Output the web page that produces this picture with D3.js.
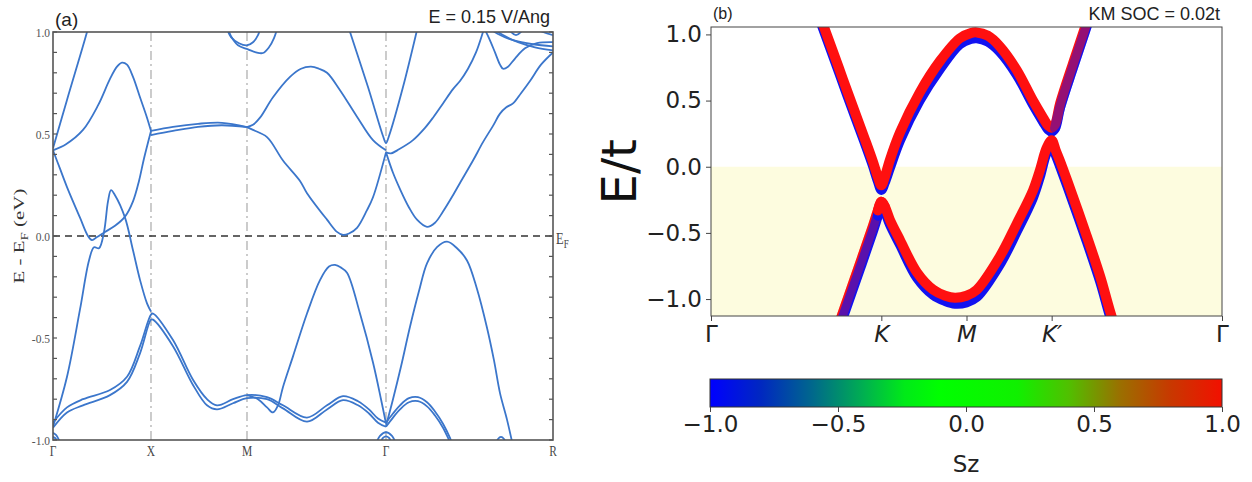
<!DOCTYPE html>
<html>
<head>
<meta charset="utf-8">
<script src="https://cdn.jsdelivr.net/npm/d3@7"></script>
<style>
  html, body { margin: 0; padding: 0; background: #fff; }
  svg { display: block; }
</style>
</head>
<body>
<svg id="fig" width="1252" height="482"></svg>
<script>
// ---------------- Panel (a): band structure along Γ–X–M–Γ–R ----------------
const pathLabelsA = ["Γ", "X", "M", "Γ", "R"];
const pathTicksA  = [0, 0.98, 1.94, 3.33, 5.0];
const energyMajorA = [-1.0, -0.5, 0.0, 0.5, 1.0];
const energyMinorA = [-1.0,-0.9,-0.8,-0.7,-0.6,-0.5,-0.4,-0.3,-0.2,-0.1,0.0,0.1,0.2,0.3,0.4,0.5,0.6,0.7,0.8,0.9,1.0];

// each band: [k-path coordinate, E - E_F (eV)]
const bandSteepGamma = [[0,0.43],[0.14,0.667],[0.34,1.0],[0.36,1.04]];
const bandHumpGX = [[0,0.42],[0.13,0.45],[0.3,0.52],[0.45,0.64],[0.57,0.77],[0.64,0.83],[0.69,0.85],[0.74,0.84],[0.80,0.78],[0.87,0.68],[0.94,0.58],[0.98,0.515]];
const bandDipGX = [[0,0.42],[0.07,0.33],[0.14,0.24],[0.27,0.09],[0.35,0.0],[0.39,-0.02],[0.44,-0.005],[0.52,0.02],[0.62,0.05],[0.72,0.095],[0.80,0.17],[0.86,0.27],[0.91,0.38],[0.98,0.515]];
const bandCrossGX = [[0,-0.935],[0.14,-0.69],[0.27,-0.36],[0.36,-0.12],[0.41,-0.055],[0.46,-0.06],[0.51,0.02],[0.55,0.17],[0.58,0.225],[0.62,0.20],[0.72,0.09],[0.80,-0.07],[0.87,-0.215],[0.94,-0.33],[0.98,-0.37]];
const bandLowUpper = [[0,-0.915],[0.14,-0.84],[0.30,-0.80],[0.57,-0.755],[0.74,-0.69],[0.87,-0.54],[0.98,-0.385],[1.0,-0.38],[1.20,-0.51],[1.40,-0.705],[1.54,-0.80],[1.64,-0.83],[1.80,-0.80],[1.94,-0.78],[2.14,-0.79],[2.30,-0.83],[2.54,-0.89],[2.74,-0.83],[2.90,-0.785],[3.05,-0.81],[3.16,-0.85],[3.25,-0.895],[3.33,-0.915]];
const bandLowLower = [[0,-0.94],[0.14,-0.865],[0.30,-0.83],[0.57,-0.78],[0.74,-0.715],[0.87,-0.575],[0.98,-0.41],[1.0,-0.41],[1.20,-0.54],[1.40,-0.73],[1.54,-0.83],[1.64,-0.85],[1.80,-0.82],[1.94,-0.795],[2.14,-0.80],[2.30,-0.845],[2.54,-0.91],[2.74,-0.85],[2.90,-0.805],[3.05,-0.83],[3.16,-0.87],[3.25,-0.915],[3.33,-0.935]];
const bandLowUpperGR = [[3.33,-0.915],[3.40,-0.87],[3.47,-0.83],[3.56,-0.795],[3.65,-0.79],[3.74,-0.815],[3.82,-0.86],[3.90,-0.92],[3.97,-0.99],[4.0,-1.03]];
const bandLowLowerGR = [[3.33,-0.935],[3.40,-0.89],[3.47,-0.85],[3.56,-0.815],[3.65,-0.81],[3.74,-0.835],[3.82,-0.88],[3.90,-0.94],[3.96,-1.0],[3.99,-1.03]];
const bandPeakMG = [[1.94,-0.78],[2.05,-0.80],[2.14,-0.84],[2.20,-0.865],[2.25,-0.83],[2.30,-0.74],[2.40,-0.59],[2.54,-0.38],[2.67,-0.216],[2.76,-0.15],[2.82,-0.142],[2.88,-0.155],[2.94,-0.18],[3.07,-0.38],[3.20,-0.62],[3.28,-0.80],[3.33,-0.92]];
const bandPeakGR = [[3.33,-0.93],[3.40,-0.80],[3.48,-0.64],[3.57,-0.445],[3.66,-0.27],[3.74,-0.134],[3.84,-0.055],[3.94,-0.028],[4.04,-0.06],[4.14,-0.12],[4.24,-0.26],[4.34,-0.45],[4.41,-0.61],[4.47,-0.77],[4.54,-0.90],[4.60,-1.03]];
const bandVGamma = [[2.95,1.03],[3.15,0.73],[3.30,0.49],[3.33,0.455],[3.36,0.49],[3.50,0.73],[3.65,1.03]];
const bandArchMG = [[1.94,0.534],[2.0,0.545],[2.07,0.58],[2.20,0.68],[2.37,0.78],[2.48,0.82],[2.58,0.83],[2.66,0.82],[2.74,0.80],[2.87,0.715],[3.04,0.585],[3.20,0.47],[3.33,0.42]];
const bandValleyMG = [[1.94,0.534],[2.0,0.52],[2.14,0.485],[2.30,0.37],[2.47,0.27],[2.54,0.21],[2.74,0.08],[2.84,0.02],[2.90,0.005],[2.96,0.012],[3.04,0.04],[3.14,0.127],[3.20,0.19],[3.33,0.41]];
const bandValleyGR = [[3.33,0.41],[3.40,0.31],[3.47,0.23],[3.56,0.14],[3.64,0.08],[3.74,0.045],[3.82,0.065],[3.90,0.12],[4.0,0.2],[4.07,0.26],[4.20,0.37],[4.30,0.46],[4.40,0.54],[4.47,0.60],[4.53,0.63],[4.60,0.65],[4.68,0.70],[4.77,0.76],[4.88,0.84],[5.0,0.90]];
const bandRiseGR = [[3.33,0.41],[3.38,0.405],[3.46,0.425],[3.60,0.47],[3.72,0.53],[3.80,0.58],[3.90,0.65],[4.0,0.72],[4.07,0.76],[4.15,0.82],[4.23,0.90],[4.30,1.0],[4.32,1.03]];
const bandFlatXMUpper = [[0.98,0.515],[1.2,0.535],[1.45,0.55],[1.69,0.555],[1.94,0.534]];
const bandFlatXMLower = [[0.98,0.495],[1.2,0.515],[1.45,0.535],[1.69,0.543],[1.94,0.534]];
const bandTopMOuter = [[1.74,1.03],[1.78,0.98],[1.85,0.935],[1.95,0.915],[2.03,0.90],[2.10,0.897],[2.16,0.925],[2.21,0.97],[2.25,1.03]];
const bandTopMInner = [[1.73,1.03],[1.78,0.975],[1.86,0.945],[1.94,0.935],[2.0,0.95],[2.05,0.985],[2.08,1.03]];
const bandTopR1 = [[4.30,1.03],[4.36,0.97],[4.42,0.90],[4.47,0.84],[4.50,0.82],[4.55,0.83],[4.62,0.87],[4.72,0.92],[4.84,0.945],[5.0,0.95]];
const bandTopR2 = [[4.33,1.03],[4.45,0.99],[4.60,0.96],[4.80,0.94],[5.0,0.93]];
const bandTopR3 = [[4.36,1.03],[4.50,0.985],[4.65,0.95],[4.82,0.925],[5.0,0.91]];
const bandTopR4 = [[4.55,1.03],[4.58,1.0],[4.63,0.985],[4.68,1.0],[4.71,1.03]];
const bandTopR5 = [[4.80,1.03],[4.90,1.0],[5.0,0.985]];
const bandBottomG1a = [[0,-0.965],[0.03,-0.975],[0.06,-1.0],[0.08,-1.03]];
const bandBottomG1b = [[0,-0.985],[0.03,-0.995],[0.05,-1.03]];
const bandBottomG2a = [[3.22,-1.03],[3.27,-0.98],[3.33,-0.962],[3.39,-0.98],[3.44,-1.03]];
const bandBottomG2b = [[3.26,-1.03],[3.30,-0.99],[3.33,-0.982],[3.36,-0.99],[3.40,-1.03]];
const bandBottomR = [[4.42,-1.03],[4.45,-0.995],[4.48,-0.985],[4.51,-0.995],[4.54,-1.03]];

// ---------------- Panel (b): Kane–Mele bands along Γ–K–M–K′–Γ ----------------
const pathLabelsB = ["Γ", "K", "M", "K′", "Γ"];
const pathTicksB  = [0, 2, 3, 4, 6];
const energyTicksB = [-1.0, -0.5, 0.0, 0.5, 1.0];
const szTicks = [-1.0, -0.5, 0.0, 0.5, 1.0];

// [k, E/t]; spin-up (Sz = +1, red) and spin-down (Sz = -1, blue) branches
const upperSpinUp = [[1.20,1.28],[1.33,1.05],[1.50,0.75],[1.60,0.57],[1.80,0.22],[1.90,0.04],[1.96,-0.08],[2.0,-0.14],[2.04,-0.08],[2.10,0.05],[2.22,0.26],[2.45,0.56],[2.69,0.80],[2.92,0.97],[3.05,1.01],[3.12,1.015],[3.25,0.99],[3.39,0.91],[3.59,0.73],[3.78,0.50],[3.90,0.37],[3.96,0.31],[4.0,0.295],[4.04,0.32],[4.10,0.48],[4.25,0.78],[4.39,1.05],[4.5,1.27]];
const upperSpinDown = [[1.20,1.25],[1.33,1.02],[1.50,0.72],[1.60,0.54],[1.80,0.19],[1.90,0.01],[1.96,-0.11],[2.0,-0.175],[2.04,-0.12],[2.10,-0.01],[2.22,0.20],[2.45,0.50],[2.69,0.74],[2.92,0.925],[3.05,0.965],[3.12,0.97],[3.25,0.945],[3.39,0.87],[3.59,0.695],[3.78,0.47],[3.90,0.34],[3.96,0.28],[4.0,0.265],[4.04,0.29],[4.10,0.45],[4.25,0.75],[4.39,1.02],[4.5,1.24]];
const lowerSpinUp = [[1.40,-1.38],[1.535,-1.128],[1.75,-0.73],[1.90,-0.45],[1.96,-0.33],[2.0,-0.265],[2.04,-0.30],[2.10,-0.40],[2.22,-0.555],[2.42,-0.80],[2.61,-0.93],[2.75,-0.975],[2.865,-0.99],[3.0,-0.975],[3.12,-0.93],[3.39,-0.68],[3.59,-0.43],[3.78,-0.18],[3.86,-0.03],[3.94,0.14],[4.0,0.20],[4.05,0.12],[4.10,0.04],[4.18,-0.10],[4.41,-0.52],[4.57,-0.83],[4.68,-1.08],[4.8,-1.33]];
const lowerSpinDown = [[1.40,-1.42],[1.535,-1.165],[1.75,-0.77],[1.90,-0.49],[1.96,-0.37],[2.0,-0.30],[2.04,-0.335],[2.10,-0.435],[2.22,-0.59],[2.42,-0.84],[2.61,-0.97],[2.75,-1.015],[2.865,-1.035],[3.0,-1.025],[3.12,-0.985],[3.39,-0.74],[3.59,-0.49],[3.78,-0.235],[3.86,-0.08],[3.94,0.105],[4.0,0.165],[4.05,0.085],[4.10,0.0],[4.18,-0.14],[4.41,-0.56],[4.57,-0.87],[4.68,-1.12],[4.8,-1.37]];

// ---------------- drawing ----------------
const svg = d3.select("#fig");
svg.append("rect").attr("width", 1252).attr("height", 482).attr("fill", "#fff");
const defs = svg.append("defs");

const SERIF = "'Liberation Serif', 'DejaVu Serif', serif";
const SANS = "'Liberation Sans', Arial, sans-serif";
const DVS = "'DejaVu Sans', sans-serif";

// ---- panel (a) ----
const xa = d3.scaleLinear().domain([0, 5]).range([53, 553]);
const ya = d3.scaleLinear().domain([-1, 1]).range([440, 32]);
defs.append("clipPath").attr("id", "clipA").append("rect")
  .attr("x", xa(0)).attr("y", ya(1)).attr("width", xa(5) - xa(0)).attr("height", ya(-1) - ya(1));

const gA = svg.append("g");

// high-symmetry guides
gA.selectAll("line.sym").data(pathTicksA.slice(1, 4)).join("line")
  .attr("x1", d => xa(d)).attr("x2", d => xa(d))
  .attr("y1", ya(1)).attr("y2", ya(-1))
  .attr("stroke", "#aaa").attr("stroke-width", 1.2)
  .attr("stroke-dasharray", "9,4,2,4");

// Fermi level
gA.append("line")
  .attr("x1", xa(0)).attr("x2", xa(5)).attr("y1", ya(0)).attr("y2", ya(0))
  .attr("stroke", "#333").attr("stroke-width", 1.5).attr("stroke-dasharray", "7,5");

const lineA = d3.line().x(d => xa(d[0])).y(d => ya(d[1])).curve(d3.curveCatmullRom.alpha(0.5));
const bandsA = [bandSteepGamma, bandHumpGX, bandDipGX, bandCrossGX, bandLowUpper, bandLowLower,
  bandLowUpperGR, bandLowLowerGR, bandPeakMG, bandPeakGR, bandVGamma, bandArchMG, bandValleyMG,
  bandValleyGR, bandRiseGR, bandFlatXMUpper, bandFlatXMLower, bandTopMOuter, bandTopMInner,
  bandTopR1, bandTopR2, bandTopR3, bandTopR4, bandTopR5, bandBottomG1a, bandBottomG1b,
  bandBottomG2a, bandBottomG2b, bandBottomR];
gA.append("g").attr("clip-path", "url(#clipA)")
  .selectAll("path").data(bandsA).join("path")
  .attr("d", lineA).attr("fill", "none")
  .attr("stroke", "#3b76cb").attr("stroke-width", 1.8).attr("stroke-linejoin", "round");

// frame
gA.append("rect").attr("x", xa(0)).attr("y", ya(1))
  .attr("width", xa(5) - xa(0)).attr("height", ya(-1) - ya(1))
  .attr("fill", "none").attr("stroke", "#555").attr("stroke-width", 1.6);

// inward ticks on both vertical sides
const tickLenA = 4;
gA.selectAll("line.tl").data(energyMinorA).join("line")
  .attr("x1", xa(0)).attr("x2", xa(0) + tickLenA).attr("y1", d => ya(d)).attr("y2", d => ya(d))
  .attr("stroke", "#555").attr("stroke-width", 1.2);
gA.selectAll("line.tr").data(energyMinorA).join("line")
  .attr("x1", xa(5)).attr("x2", xa(5) - tickLenA).attr("y1", d => ya(d)).attr("y2", d => ya(d))
  .attr("stroke", "#555").attr("stroke-width", 1.2);

// energy labels
gA.selectAll("text.yl").data(energyMajorA).join("text")
  .attr("transform", d => `translate(50,${ya(d)}) scale(1,1.15)`)
  .attr("text-anchor", "end").attr("dy", "0.35em")
  .attr("font-family", SERIF).attr("font-size", 11.5).attr("fill", "#555")
  .text(d => d3.format(".1f")(d).replace("−", "-"));

// k-path labels
gA.selectAll("text.xl").data(pathTicksA).join("text")
  .attr("transform", (d) => `translate(${xa(d)},456) scale(1,1.3)`)
  .attr("text-anchor", "middle")
  .attr("font-family", SERIF).attr("font-size", 11.5).attr("fill", "#444")
  .text((d, i) => pathLabelsA[i]);

// E_F marker at right
const efLab = gA.append("text")
  .attr("transform", `translate(556,${ya(0) + 8}) scale(1,1.3)`)
  .attr("font-family", SERIF).attr("font-size", 12.5).attr("fill", "#444");
efLab.append("tspan").text("E");
efLab.append("tspan").attr("font-size", 9).attr("dy", 3).text("F");

// y-axis title
const yTitleA = gA.append("text")
  .attr("transform", `translate(24,${ya(0)}) rotate(-90) scale(1.35,1)`)
  .attr("text-anchor", "middle")
  .attr("font-family", SERIF).attr("font-size", 15.5).attr("fill", "#333");
yTitleA.append("tspan").text("E - E");
yTitleA.append("tspan").attr("font-size", 11).attr("dy", 4).text("F");
yTitleA.append("tspan").attr("dy", -4).text(" (eV)");

svg.append("text").attr("x", 55).attr("y", 26)
  .attr("font-family", SANS).attr("font-size", 19).attr("fill", "#222").text("(a)");
svg.append("text").attr("x", 550).attr("y", 23).attr("text-anchor", "end")
  .attr("font-family", SANS).attr("font-size", 18).attr("fill", "#222").text("E = 0.15 V/Ang");

// ---- panel (b) ----
const xb = d3.scaleLinear().domain([0, 6]).range([711, 1222]);
const yb = d3.scaleLinear().domain([-1.128, 1.056]).range([316, 27]);
defs.append("clipPath").attr("id", "clipB").append("rect")
  .attr("x", xb(0)).attr("y", yb(1.056)).attr("width", xb(6) - xb(0)).attr("height", yb(-1.128) - yb(1.056));

const gB = svg.append("g");
// occupied region below E = 0
gB.append("rect").attr("x", xb(0)).attr("y", yb(0))
  .attr("width", xb(6) - xb(0)).attr("height", yb(-1.128) - yb(0))
  .attr("fill", "#fdfcdf");

const lineB = d3.line().x(d => xb(d[0])).y(d => yb(d[1])).curve(d3.curveCatmullRom.alpha(0.5));
const bandsB = gB.append("g").attr("clip-path", "url(#clipB)");
const RED = "#ff1010", BLUE = "#1212f0";
function drawBand(data, color, opacity) {
  bandsB.append("path").datum(data).attr("d", lineB)
    .attr("fill", "none").attr("stroke", color).attr("stroke-width", 10)
    .attr("stroke-opacity", opacity)
    .attr("stroke-linecap", "round").attr("stroke-linejoin", "round");
}
// lower band, Γ→K: spin-down drawn over spin-up, with a mixed tint
drawBand(lowerSpinUp.filter(d => d[0] <= 2.04), RED, 1);
drawBand(lowerSpinDown.filter(d => d[0] <= 2.0), BLUE, 1);
drawBand(lowerSpinUp.filter(d => d[0] <= 1.96), RED, 0.3);
// remaining branches: spin-down under spin-up
drawBand(upperSpinDown, BLUE, 1);
drawBand(lowerSpinDown.filter(d => d[0] >= 1.96), BLUE, 1);
drawBand(upperSpinUp, RED, 1);
drawBand(lowerSpinUp.filter(d => d[0] >= 1.96), RED, 1);
// upper band, K′→Γ: mixed spin texture
drawBand(upperSpinDown.filter(d => d[0] >= 4.04), BLUE, 0.45);

gB.append("rect").attr("x", xb(0)).attr("y", yb(1.056))
  .attr("width", xb(6) - xb(0)).attr("height", yb(-1.128) - yb(1.056))
  .attr("fill", "none").attr("stroke", "#444").attr("stroke-width", 1);

const yAxisB = d3.axisLeft(yb).tickValues(energyTicksB).tickSize(5).tickPadding(4)
  .tickFormat(d3.format(".1f"));
const gyB = gB.append("g").attr("transform", `translate(${xb(0)},0)`).call(yAxisB);
gyB.select(".domain").remove();
gyB.selectAll("line").attr("stroke", "#444");
gyB.selectAll("text").attr("font-family", DVS).attr("font-size", 23).attr("fill", "#222");

const xAxisB = d3.axisBottom(xb).tickValues(pathTicksB).tickSize(5).tickPadding(5)
  .tickFormat((d, i) => pathLabelsB[i]);
const gxB = gB.append("g").attr("transform", `translate(0,${yb(-1.128)})`).call(xAxisB);
gxB.select(".domain").remove();
gxB.selectAll("line").attr("stroke", "#444");
gxB.selectAll("text").attr("font-family", DVS).attr("font-size", 23).attr("fill", "#222")
  .attr("font-style", (d, i) => (i === 0 || i === 4) ? "normal" : "italic");

gB.append("text")
  .attr("transform", `translate(636,${yb(0) + 5}) rotate(-90)`)
  .attr("text-anchor", "middle")
  .attr("font-family", DVS).attr("font-size", 48).attr("fill", "#111").text("E/t");

svg.append("text").attr("x", 713).attr("y", 19)
  .attr("font-family", SANS).attr("font-size", 16).attr("fill", "#222").text("(b)");
svg.append("text").attr("x", 1220).attr("y", 20).attr("text-anchor", "end")
  .attr("font-family", SANS).attr("font-size", 18).attr("fill", "#222").text("KM SOC = 0.02t");

// ---- colorbar for Sz ----
const xc = d3.scaleLinear().domain([-1, 1]).range([710, 1222]);
const grad = defs.append("linearGradient").attr("id", "szGrad")
  .attr("x1", "0%").attr("x2", "100%").attr("y1", "0%").attr("y2", "0%");
const szStops = [
  [0.00, "#0000ff"], [0.10, "#0028c0"], [0.20, "#00688c"], [0.30, "#00b050"],
  [0.38, "#00ea18"], [0.45, "#00ff00"], [0.60, "#10f000"], [0.70, "#50c000"],
  [0.80, "#9a7000"], [0.90, "#c83800"], [1.00, "#f21000"]];
grad.selectAll("stop").data(szStops).join("stop")
  .attr("offset", d => d[0]).attr("stop-color", d => d[1]);

const cbTop = 379, cbBot = 407;
svg.append("rect").attr("x", xc(-1)).attr("y", cbTop)
  .attr("width", xc(1) - xc(-1)).attr("height", cbBot - cbTop)
  .attr("fill", "url(#szGrad)").attr("stroke", "#333").attr("stroke-width", 1);

const cAxis = d3.axisBottom(xc).tickValues(szTicks).tickSize(5).tickPadding(4).tickFormat(d3.format(".1f"));
const gc = svg.append("g").attr("transform", `translate(0,${cbBot})`).call(cAxis);
gc.select(".domain").remove();
gc.selectAll("line").attr("stroke", "#444");
gc.selectAll("text").attr("font-family", DVS).attr("font-size", 23).attr("fill", "#222");

svg.append("text").attr("x", xc(0)).attr("y", 472).attr("text-anchor", "middle")
  .attr("font-family", DVS).attr("font-size", 23).attr("fill", "#222").text("Sz");
</script>
</body>
</html>
